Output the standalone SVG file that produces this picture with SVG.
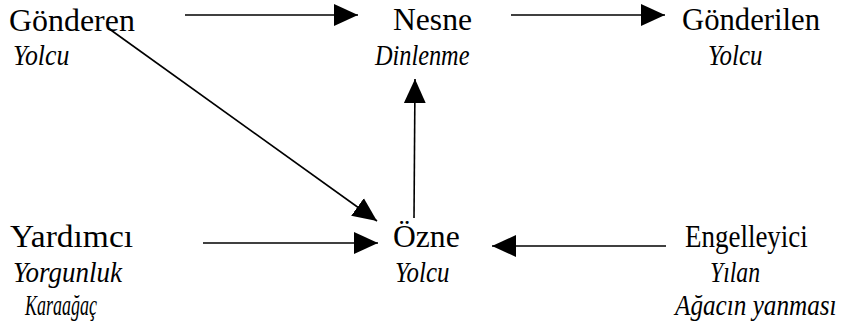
<svg xmlns="http://www.w3.org/2000/svg" width="856" height="329" viewBox="0 0 856 329">
<style>
.t{font-family:'Liberation Serif','Times New Roman',serif;font-size:31px;fill:#000}
.i{font-style:italic;font-size:30px}
.c line{stroke:#000;stroke-width:1.6;fill:none}
</style>
<defs>
<marker id="ah" markerUnits="userSpaceOnUse" markerWidth="24" markerHeight="22" viewBox="0 0 22 20" refX="22" refY="10" orient="auto">
<path d="M0,0 L22,10 L0,20 Z" fill="#000"/>
</marker>
</defs>
<rect width="856" height="329" fill="#fff"/>
<g id="gonderen">
<text class="t" transform="translate(9,31) scale(1.03,1)">Gönderen</text>
<text class="t i" transform="translate(13,65) scale(0.86,1)">Yolcu</text>
</g>
<g id="nesne">
<text class="t" transform="translate(393,30) scale(1.02,1)">Nesne</text>
<text class="t i" transform="translate(375,65) scale(0.81,1)">Dinlenme</text>
</g>
<g id="gonderilen">
<text class="t" transform="translate(682,30) scale(0.99,1)">Gönderilen</text>
<text class="t i" transform="translate(708,65) scale(0.83,1)">Yolcu</text>
</g>
<g id="yardimci">
<text class="t" transform="translate(10,247) scale(1.08,1)">Yardımcı</text>
<text class="t i" transform="translate(13,282) scale(0.9,1)">Yorgunluk</text>
<text class="t i" transform="translate(25,315) scale(0.6,1)">Karaağaç</text>
</g>
<g id="ozne">
<text class="t" transform="translate(393,247) scale(1.02,1)">Özne</text>
<text class="t i" transform="translate(395,282) scale(0.83,1)">Yolcu</text>
</g>
<g id="engelleyici">
<text class="t" transform="translate(685,247) scale(0.87,1)">Engelleyici</text>
<text class="t i" transform="translate(710,282) scale(0.79,1)">Yılan</text>
<text class="t i" transform="translate(675,315) scale(0.84,1)">Ağacın yanması</text>
</g>
<g id="connectors" class="c">
<line x1="185" y1="15" x2="358" y2="15" marker-end="url(#ah)"/>
<line x1="511" y1="15" x2="665" y2="15" marker-end="url(#ah)"/>
<line x1="108" y1="28" x2="377" y2="221" marker-end="url(#ah)"/>
<line x1="414" y1="218" x2="415" y2="79" marker-end="url(#ah)"/>
<line x1="203" y1="243" x2="378" y2="243" marker-end="url(#ah)"/>
<line x1="666" y1="246" x2="492" y2="246" marker-end="url(#ah)"/>
</g>
</svg>
